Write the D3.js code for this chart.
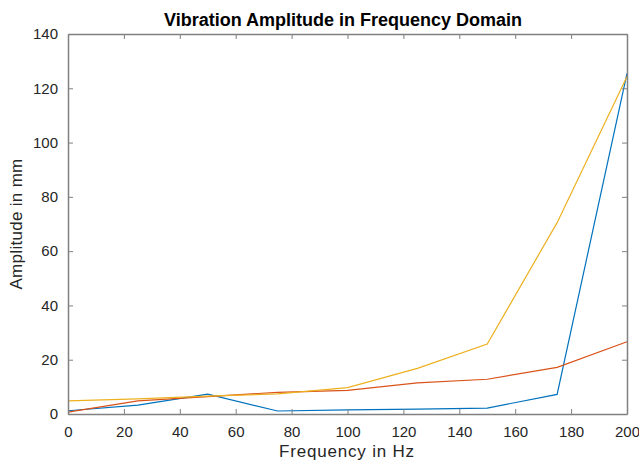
<!DOCTYPE html>
<html>
<head>
<meta charset="utf-8">
<style>
    body { margin: 0; background: #fff; }
    svg { display: block; font-family: Arial, 'Liberation Sans', sans-serif; }
    .tick text { font-size: 15px; fill: #262626; }
    .axis-label { font-size: 17px; fill: #262626; letter-spacing: 0.8px; }
    .title { font-size: 18px; font-weight: bold; fill: #000; }
</style>
</head>
<body>
<svg width="639" height="462"></svg>
<script src="https://d3js.org/d3.v7.min.js"></script>
<script>
    // frequencies (Hz)
    let freq = [0, 25, 50, 75, 100, 125, 150, 175, 200];
    // amplitudes (mm), three runs
    let seriesBlue = [1.2, 3.3, 7.3, 1.1, 1.5, 1.8, 2.2, 7.2, 125.5];
    let seriesOrange = [0.7, 4.8, 6.4, 8.0, 8.7, 11.5, 12.8, 17.2, 26.6];
    let seriesYellow = [4.8, 5.6, 6.6, 7.4, 9.7, 16.8, 25.8, 70.5, 124.3];
    let colors = ["#0072BD", "#D95319", "#EDB120"];

    let xTicks = [0, 20, 40, 60, 80, 100, 120, 140, 160, 180, 200];
    let yTicks = [0, 20, 40, 60, 80, 100, 120, 140];

    let margin = { top: 34, right: 12, bottom: 48, left: 68 };
    let width = 639, height = 462;

    let svg = d3.select("svg");

    let x = d3.scaleLinear()
        .domain([0, 200])
        .range([margin.left, width - margin.right]);

    let y = d3.scaleLinear()
        .domain([0, 140])
        .range([height - margin.bottom, margin.top]);

    let axisColor = "#808080";

    // lines
    let line = d3.line()
        .x((d, i) => x(freq[i]))
        .y(d => y(d));

    [seriesBlue, seriesOrange, seriesYellow].forEach((s, i) => {
        svg.append("path")
            .datum(s)
            .attr("fill", "none")
            .attr("stroke", colors[i])
            .attr("stroke-width", 1.2)
            .attr("d", line);
    });

    function styleAxis(g, hideText) {
        g.selectAll(".domain").attr("stroke", axisColor).attr("stroke-width", 1.5);
        g.selectAll(".tick line").attr("stroke", axisColor);
        if (hideText) g.selectAll(".tick text").remove();
    }

    // bottom & top
    svg.append("g")
        .attr("transform", `translate(0,${y(0)})`)
        .call(d3.axisBottom(x).tickValues(xTicks).tickSizeInner(-5).tickSizeOuter(0).tickPadding(12))
        .call(g => styleAxis(g, false));

    svg.append("g")
        .attr("transform", `translate(0,${y(140)})`)
        .call(d3.axisTop(x).tickValues(xTicks).tickSizeInner(-5).tickSizeOuter(0))
        .call(g => styleAxis(g, true));

    // left & right
    svg.append("g")
        .attr("transform", `translate(${x(0)},0)`)
        .call(d3.axisLeft(y).tickValues(yTicks).tickSizeInner(-5).tickSizeOuter(0).tickPadding(10))
        .call(g => styleAxis(g, false));

    svg.append("g")
        .attr("transform", `translate(${x(200)},0)`)
        .call(d3.axisRight(y).tickValues(yTicks).tickSizeInner(-5).tickSizeOuter(0))
        .call(g => styleAxis(g, true));

    svg.append("text")
        .attr("class", "title")
        .attr("x", 343)
        .attr("y", 26)
        .attr("text-anchor", "middle")
        .text("Vibration Amplitude in Frequency Domain");

    svg.append("text")
        .attr("class", "axis-label")
        .attr("x", 347)
        .attr("y", 457)
        .attr("text-anchor", "middle")
        .text("Frequency in Hz");

    svg.append("text")
        .attr("class", "axis-label")
        .attr("transform", `translate(22,${(y(0) + y(140)) / 2}) rotate(-90)`)
        .attr("text-anchor", "middle")
        .style("letter-spacing", "0.3px")
        .text("Amplitude in mm");
</script>
</body>
</html>
